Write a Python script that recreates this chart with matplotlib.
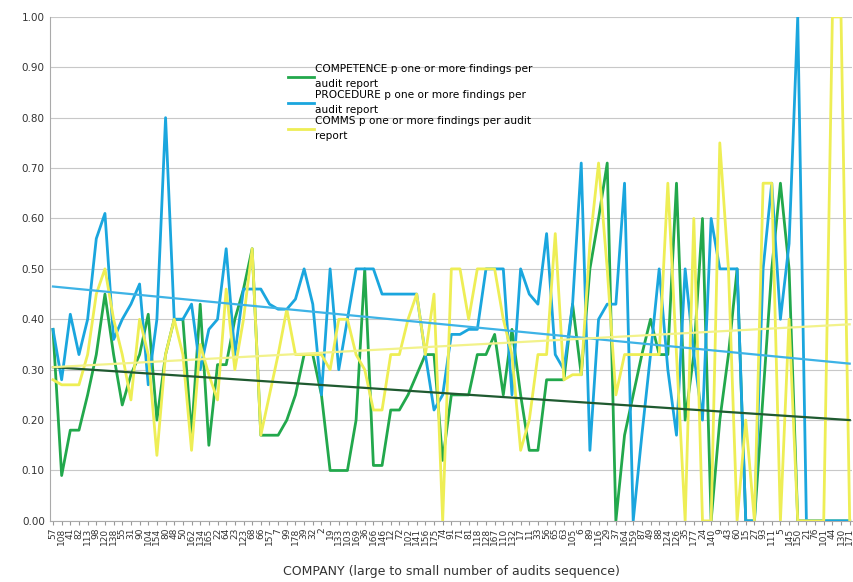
import numpy as np
import matplotlib
matplotlib.use("Agg")
import matplotlib.pyplot as plt

companies = ["57", "108", "41", "82", "113", "98", "120", "138", "55", "31",
             "90", "104", "154", "80", "48", "50", "162", "134", "165", "22",
             "64", "23", "123", "68", "66", "157", "7", "99", "178", "39",
             "32", "2", "19", "133", "103", "169", "36", "166", "146", "12",
             "72", "102", "141", "156", "175", "74", "91", "71", "81", "118",
             "128", "167", "110", "132", "17", "11", "33", "56", "65", "63",
             "105", "6", "89", "116", "29", "37", "164", "159", "87", "49",
             "88", "124", "126", "35", "177", "24", "140", "9", "43", "60",
             "15", "27", "93", "111", "5", "145", "150", "21", "76", "101",
             "44", "130", "171"]

competence = [0.38, 0.09, 0.18, 0.18, 0.25, 0.33, 0.45, 0.33, 0.23, 0.29,
              0.33, 0.41, 0.20, 0.33, 0.40, 0.40, 0.17, 0.43, 0.15, 0.31,
              0.31, 0.40, 0.46, 0.54, 0.17, 0.17, 0.17, 0.20, 0.25, 0.33,
              0.33, 0.25, 0.10, 0.10, 0.10, 0.20, 0.50, 0.11, 0.11, 0.22,
              0.22, 0.25, 0.29, 0.33, 0.33, 0.12, 0.25, 0.25, 0.25, 0.33,
              0.33, 0.37, 0.25, 0.38, 0.25, 0.14, 0.14, 0.28, 0.28, 0.28,
              0.43, 0.29, 0.50, 0.60, 0.71, 0.00, 0.17, 0.25, 0.33, 0.40,
              0.33, 0.33, 0.67, 0.20, 0.33, 0.60, 0.00, 0.20, 0.33, 0.50,
              0.00, 0.00, 0.25, 0.50, 0.67, 0.50, 0.00, 0.00, 0.00, 0.00,
              0.00, 0.00, 0.00]

procedure = [0.38, 0.28, 0.41, 0.33, 0.40, 0.56, 0.61, 0.36, 0.40, 0.43,
             0.47, 0.27, 0.40, 0.80, 0.40, 0.40, 0.43, 0.30, 0.38, 0.40,
             0.54, 0.33, 0.46, 0.46, 0.46, 0.43, 0.42, 0.42, 0.44, 0.50,
             0.43, 0.25, 0.50, 0.30, 0.40, 0.50, 0.50, 0.50, 0.45, 0.45,
             0.45, 0.45, 0.45, 0.33, 0.22, 0.25, 0.37, 0.37, 0.38, 0.38,
             0.50, 0.50, 0.50, 0.25, 0.50, 0.45, 0.43, 0.57, 0.33, 0.30,
             0.43, 0.71, 0.14, 0.40, 0.43, 0.43, 0.67, 0.00, 0.17, 0.33,
             0.50, 0.30, 0.17, 0.50, 0.33, 0.20, 0.60, 0.50, 0.50, 0.50,
             0.00, 0.00, 0.50, 0.67, 0.40, 0.55, 1.00, 0.00, 0.00, 0.00,
             0.00, 0.00, 0.00]

comms = [0.28, 0.27, 0.27, 0.27, 0.33, 0.45, 0.50, 0.40, 0.33, 0.24,
         0.40, 0.33, 0.13, 0.33, 0.40, 0.33, 0.14, 0.35, 0.29, 0.24,
         0.46, 0.30, 0.40, 0.54, 0.17, 0.25, 0.33, 0.42, 0.33, 0.33,
         0.33, 0.33, 0.30, 0.40, 0.40, 0.33, 0.30, 0.22, 0.22, 0.33,
         0.33, 0.40, 0.45, 0.33, 0.45, 0.00, 0.50, 0.50, 0.40, 0.50,
         0.50, 0.50, 0.40, 0.33, 0.14, 0.20, 0.33, 0.33, 0.57, 0.28,
         0.29, 0.29, 0.55, 0.71, 0.50, 0.25, 0.33, 0.33, 0.33, 0.33,
         0.33, 0.67, 0.33, 0.00, 0.60, 0.00, 0.00, 0.75, 0.50, 0.00,
         0.20, 0.00, 0.67, 0.67, 0.00, 0.40, 0.00, 0.00, 0.00, 0.00,
         1.00, 1.00, 0.00]

# Linear trendline values at the first and last company
competence_trend = [0.305, 0.200]
procedure_trend = [0.465, 0.312]
comms_trend = [0.305, 0.390]

series = [
    ("COMPETENCE p one or more findings per\naudit report", competence,
     competence_trend, "#22a84c", "#1f5a30"),
    ("PROCEDURE p one or more findings per\naudit report", procedure,
     procedure_trend, "#1aa6de", "#3db3e6"),
    ("COMMS p one or more findings per audit\nreport", comms,
     comms_trend, "#eeee55", "#f2f28a"),
]

fig = plt.figure(figsize=(8.54, 5.82), dpi=100)
ax = fig.add_axes([0.059, 0.105, 0.939, 0.866])

x = np.arange(len(companies))
for label, vals, trend, col, tcol in series:
    ax.plot(x, vals, color=col, lw=2.0, label=label, zorder=3)
for label, vals, trend, col, tcol in series:
    ax.plot([x[0], x[-1]], trend, color=tcol, lw=1.6, zorder=4)

ax.set_ylim(0, 1.0)
ax.set_xlim(-0.3, len(companies) - 0.7)
ax.set_yticks(np.arange(0, 1.01, 0.1))
ax.set_yticklabels([f"{v:.2f}" for v in np.arange(0, 1.01, 0.1)], fontsize=7.5,
                   color="#333333")
ax.set_xticks(x)
ax.set_xticklabels(companies, rotation=90, fontsize=6.5, color="#333333")
ax.tick_params(axis="x", length=3, color="#999999", pad=2)
ax.tick_params(axis="y", length=0, pad=4)
ax.grid(axis="y", color="#c8c8c8", lw=0.8)
ax.set_axisbelow(True)
for s in ["top", "right"]:
    ax.spines[s].set_visible(False)
ax.spines["left"].set_color("#aaaaaa")
ax.spines["bottom"].set_color("#aaaaaa")

ax.set_xlabel("COMPANY (large to small number of audits sequence)", fontsize=9,
              color="#333333", labelpad=14)

leg = ax.legend(loc="upper left", bbox_to_anchor=(0.285, 0.925), frameon=False,
                fontsize=7.6, handlelength=2.4, labelspacing=0.15,
                handletextpad=0.1)
for t in leg.get_texts():
    t.set_linespacing(1.55)

fig.savefig("out.png", dpi=100)
